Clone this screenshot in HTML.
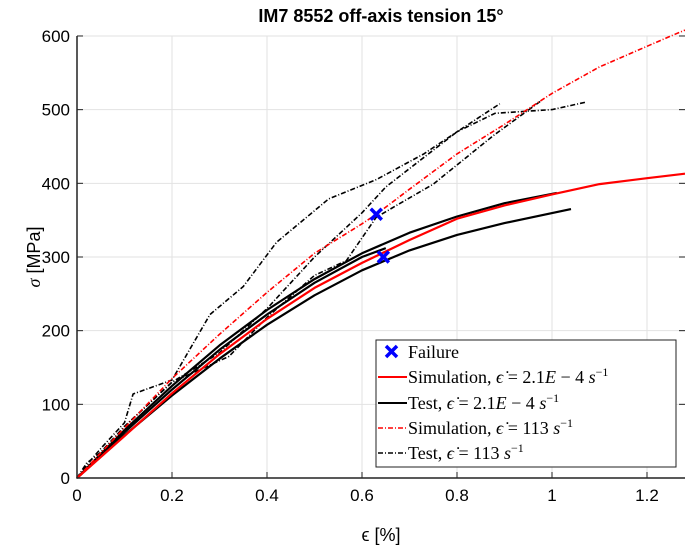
<!DOCTYPE html>
<html><head><meta charset="utf-8"><style>
body{margin:0;background:#fff;}
.sans{font-family:"Liberation Sans",sans-serif;}
.serif, .serif text, .serif tspan{font-family:"Liberation Serif",serif;}
</style></head><body>
<svg id="chart" width="685" height="549" xmlns="http://www.w3.org/2000/svg">
<text class="sans" x="381" y="22" text-anchor="middle" font-size="18" font-weight="bold">IM7 8552 off-axis tension 15°</text>
<g id="grid"></g>
<g id="series"></g>
<g id="axes"></g>
<text class="sans" x="381" y="541" text-anchor="middle" font-size="18">ϵ [%]</text>
<text class="sans" transform="translate(40,257) rotate(-90)" text-anchor="middle" font-size="18"><tspan class="serif" font-style="italic">σ</tspan> [MPa]</text>
<g>
<rect x="376" y="340" width="300" height="127" fill="#fff" stroke="#222" stroke-width="1"/>
<g class="serif" font-size="18">
<g><path d="M386,346 l11,11 M397,346 l-11,11" stroke="#00f" stroke-width="3.5"/><text x="408" y="358">Failure</text></g>
<g><line x1="378" y1="377" x2="407" y2="377" stroke="red" stroke-width="2"/><text x="408" y="383">Simulation, <tspan font-style="italic">ϵ̇</tspan> = 2.1<tspan font-style="italic">E</tspan> − 4 <tspan font-style="italic">s</tspan><tspan dy="-7" font-size="12">−1</tspan></text></g>
<g><line x1="378" y1="403" x2="407" y2="403" stroke="#000" stroke-width="2"/><text x="408" y="409">Test, <tspan font-style="italic">ϵ̇</tspan> = 2.1<tspan font-style="italic">E</tspan> − 4 <tspan font-style="italic">s</tspan><tspan dy="-7" font-size="12">−1</tspan></text></g>
<g><line x1="378" y1="428" x2="407" y2="428" stroke="red" stroke-width="1.6" stroke-dasharray="5,2,1,2"/><text x="408" y="434">Simulation, <tspan font-style="italic">ϵ̇</tspan> = 113 <tspan font-style="italic">s</tspan><tspan dy="-7" font-size="12">−1</tspan></text></g>
<g><line x1="378" y1="453" x2="407" y2="453" stroke="#000" stroke-width="1.6" stroke-dasharray="5,2,1,2"/><text x="408" y="459">Test, <tspan font-style="italic">ϵ̇</tspan> = 113 <tspan font-style="italic">s</tspan><tspan dy="-7" font-size="12">−1</tspan></text></g>
</g></g>
</svg>
<script>
const xTicks=[0,0.2,0.4,0.6,0.8,1,1.2];
const xTickLabels=["0","0.2","0.4","0.6","0.8","1","1.2"];
const yTicks=[0,100,200,300,400,500,600];
const yTickLabels=["0","100","200","300","400","500","600"];
const simLowX=[0,0.1,0.2,0.3,0.4,0.5,0.6,0.7,0.8,0.9,1.0,1.1,1.2,1.28];
const simLowY=[0,57,115,168,216,258,292,323,352,370,385,399,407,413];
const simHighX=[0,0.1,0.2,0.3,0.4,0.5,0.6,0.63,0.7,0.8,0.9,1.0,1.1,1.25,1.28];
const simHighY=[0,68,135,195,252,305,345,358,392,440,480,522,558,600,608];
const testLow1X=[0,0.1,0.2,0.3,0.4,0.5,0.6,0.7,0.8,0.9,1.01];
const testLow1Y=[0,65,125,180,228,270,305,333,355,373,387];
const testLow2X=[0,0.1,0.2,0.3,0.4,0.5,0.6,0.7,0.8,0.9,1.04];
const testLow2Y=[0,58,112,162,208,248,282,309,330,346,365];
const testLow3X=[0,0.1,0.2,0.3,0.4,0.5,0.6,0.65];
const testLow3Y=[0,62,120,174,222,265,300,312];
const testHigh1X=[0,0.02,0.05,0.1,0.15,0.2,0.3,0.4,0.5,0.6,0.65,0.72,0.8,0.89];
const testHigh1Y=[0,20,35,70,100,130,170,230,300,360,395,430,470,508];
const testHigh2X=[0,0.03,0.05,0.1,0.118,0.2,0.28,0.35,0.42,0.53,0.63,0.73,0.8,0.88,1.0,1.07];
const testHigh2Y=[0,25,40,75,114,133,222,260,320,379,405,440,470,495,500,510];
const testHigh3X=[0,0.02,0.05,0.1,0.2,0.32,0.4,0.5,0.567,0.63,0.75,0.877,0.975];
const testHigh3Y=[0,15,30,70,130,165,218,275,295,354,399,465,511];
const failX=[0.63,0.645];
const failY=[358,300];

const X=v=>77+475*v, Y=s=>478-0.7367*s;
const NS="http://www.w3.org/2000/svg";
function mk(tag,parent,attrs){const e=document.createElementNS(NS,tag);for(const k in attrs)e.setAttribute(k,attrs[k]);document.getElementById(parent).appendChild(e);return e;}
xTicks.forEach((t,i)=>{
 const g=mk('line','grid',{x1:X(t),x2:X(t),y1:36,y2:478,stroke:'#e2e2e2','stroke-width':1});
 
 
 const tk=mk('line','axes',{x1:X(t),x2:X(t),y1:478,y2:472,stroke:'#222'});
 
 
 const l=mk('text','axes',{x:X(t),y:501,'text-anchor':'middle','font-size':17,'class':'sans'});
 l.textContent=xTickLabels[i];
 
 
});
yTicks.forEach((t,i)=>{
 const g=mk('line','grid',{x1:77,x2:685,y1:Y(t),y2:Y(t),stroke:'#e2e2e2','stroke-width':1});
 
 
 const tk=mk('line','axes',{x1:77,x2:83,y1:Y(t),y2:Y(t),stroke:'#222'});
 
 
 const tk2=mk('line','axes',{x1:679,x2:685,y1:Y(t),y2:Y(t),stroke:'#222'});
 
 
 const l=mk('text','axes',{x:70,y:Y(t)+6,'text-anchor':'end','font-size':17,'class':'sans'});
 l.textContent=yTickLabels[i];
 
 
});
const ax=mk('path','axes',{d:'M77,36 V478 H685',fill:'none',stroke:'#222','stroke-width':1.5});


function line(xs,ys,color,dash,w,name){
 const d=xs.map((v,i)=>(i?'L':'M')+X(v).toFixed(1)+','+Y(ys[i]).toFixed(1)).join(' ');
 const p=mk('path','series',{d:d,fill:'none',stroke:color,'stroke-width':w,'stroke-linejoin':'round'});
 if(dash)p.setAttribute('stroke-dasharray',dash);
 
 
}
const dd='5,2,1,2';
line(testLow1X,testLow1Y,'#000',null,2.2,'test-low-1');
line(testLow2X,testLow2Y,'#000',null,2.2,'test-low-2');
line(testLow3X,testLow3Y,'#000',null,2.2,'test-low-3');
line(testHigh1X,testHigh1Y,'#000',dd,1.6,'test-high-1');
line(testHigh2X,testHigh2Y,'#000',dd,1.6,'test-high-2');
line(testHigh3X,testHigh3Y,'#000',dd,1.6,'test-high-3');
line(simLowX,simLowY,'red',null,2.2,'simulation-low');
line(simHighX,simHighY,'red',dd,1.6,'simulation-high');
failX.forEach((v,i)=>{
 const x=X(v),y=Y(failY[i]);
 const p=mk('path','series',{d:`M${x-5.5},${y-5.5} l11,11 M${x+5.5},${y-5.5} l-11,11`,stroke:'#00f','stroke-width':3.5});
 
 
});
</script>
</body></html>
